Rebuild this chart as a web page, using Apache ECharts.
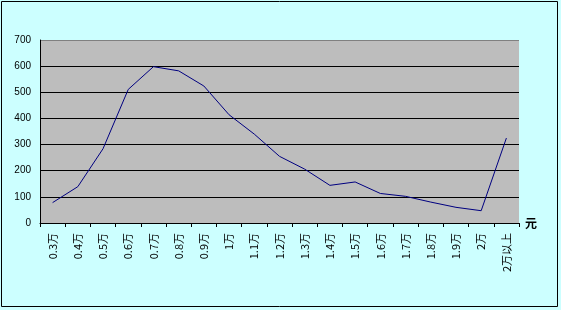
<!DOCTYPE html>
<html><head><meta charset="utf-8">
<script src="https://cdn.jsdelivr.net/npm/echarts@6/dist/echarts.min.js"></script>
<style>html,body{margin:0;padding:0;background:#CCFFFF;}#c{width:561px;height:310px;}</style>
</head><body><div id="c"></div>
<script>
const categories = ['0.3万','0.4万','0.5万','0.6万','0.7万','0.8万','0.9万','1万','1.1万','1.2万','1.3万','1.4万','1.5万','1.6万','1.7万','1.8万','1.9万','2万','2万以上'];
const values = [78,139,284,511,598,582,524,414,340,255,206,144,157,113,102,80,60,47,325];
const yTicks = {min:0, max:700, interval:100};
const xName = '元';

const chart = echarts.init(document.getElementById('c'), null, {renderer:'canvas'});
chart.setOption({
  backgroundColor:'#CCFFFF',
  animation:false,
  graphic:[{type:'rect', shape:{x:1.5,y:1.5,width:556,height:305}, style:{fill:'none', stroke:'#000', lineWidth:1}, z:100}],
  grid:{left:40, top:40, width:479, height:183, show:true, backgroundColor:'#BDBDBD', borderWidth:0},
  xAxis:{type:'category', data:categories, boundaryGap:true,
    name:xName, nameLocation:'end', nameGap:6,
    nameTextStyle:{color:'#000', fontSize:12, fontWeight:'bold', fontFamily:'Noto Sans CJK SC', verticalAlign:'middle', padding:[10,0,0,0]},
    axisLine:{lineStyle:{color:'#000', width:1}},
    axisTick:{show:true, length:4, alignWithLabel:false, lineStyle:{color:'#000'}},
    axisLabel:{rotate:90, margin:10, fontSize:11, color:'#000', fontFamily:'Noto Sans CJK SC', interval:0}
  },
  yAxis:{type:'value', min:yTicks.min, max:yTicks.max, interval:yTicks.interval,
    axisLine:{show:true, lineStyle:{color:'#000'}},
    axisTick:{show:false},
    axisLabel:{fontSize:10, color:'#000', fontFamily:'Arial, Liberation Sans', margin:9},
    splitLine:{show:true, lineStyle:{color:['#000','#000','#000','#000','#000','#000','#000','#808080'], width:1}}
  },
  series:[{type:'line', data:values, symbol:'none', lineStyle:{color:'#000080', width:1}, itemStyle:{color:'#000080'}}]
});
</script></body></html>
